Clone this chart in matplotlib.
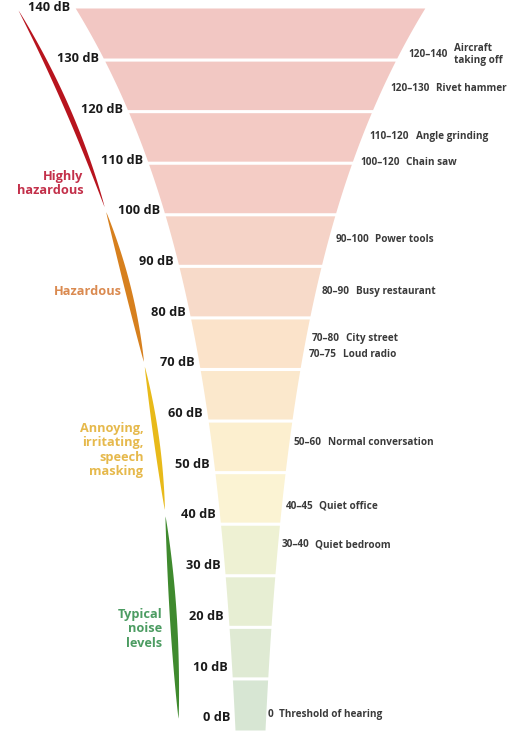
import numpy as np
import matplotlib
matplotlib.use("Agg")
import matplotlib.pyplot as plt

# Noise levels funnel (dB scale with typical sources)

# dB bands, bottom to top
levels = [0, 10, 20, 30, 40, 50, 60, 70, 80, 90, 100, 110, 120, 130, 140]
band_colors = ['#D7E6D3', '#DFEAD3', '#E7EED3', '#EEF1D3', '#FBF3D3',
               '#FCEFCF', '#FBE8CC', '#FBE3CA', '#F7DAC9', '#F5D3C7',
               '#F4CCC5', '#F3CAC4', '#F2C8C3', '#F2C7C3']

# examples on the right side
src_ranges = ['120–140', '120–130', '110–120', '100–120', '90–100', '80–90',
              '70–80', '70–75', '50–60', '40–45', '30–40', '0']
src_names = ['Aircraft\ntaking off', 'Rivet hammer', 'Angle grinding', 'Chain saw',
             'Power tools', 'Busy restaurant', 'City street', 'Loud radio',
             'Normal conversation', 'Quiet office', 'Quiet bedroom',
             'Threshold of hearing']
src_levels = [131, 124.3, 115, 110.1, 95.2, 85.1, 76, 72.9, 55.8, 43.4, 35.9, 3.1]

# hazard categories on the left stroke
cat_names = ['Highly\nhazardous', 'Hazardous', 'Annoying,\nirritating,\nspeech\nmasking',
             'Typical\nnoise\nlevels']
cat_ranges = [(101.5, 139.6), (71.5, 100.5), (42.8, 70.5), (2.3, 41.5)]
cat_label_y = [106, 85.1, 54.3, 19.6]
cat_label_gap = [13, 6, 14, 11]
cat_stroke_colors = ['#B8141E', '#D7801E', '#E8BA1A', '#3F8A2E']
cat_text_colors = ['#C3304A', '#DA8A50', '#E6B94C', '#4C9C62']

FONT = ['Open Sans', 'DejaVu Sans']
CX = 250  # funnel centre (px)


def half_width(db):
    return 15 + 13.6 * (np.exp(np.asarray(db) / 55.0) - 1)


fig = plt.figure(figsize=(5.21, 7.32), dpi=100)
ax = fig.add_axes([0, 0, 1, 1])
ax.set_xlim(0, 521)
ax.set_ylim(-0.39, 141.55)
ax.axis('off')

# funnel bands
gap = 0.3
for lo, hi, c in zip(levels[:-1], levels[1:], band_colors):
    y = np.linspace(lo + (gap if lo > 0 else 0), hi - (gap if hi < 140 else 0), 50)
    ax.fill_betweenx(y, CX - half_width(y), CX + half_width(y), color=c, lw=0)

# dB labels
for v in levels:
    ly = 140 - (140 - v) * 0.983
    ax.text(CX - half_width(v) - 5, ly, f'{v} dB', ha='right', va='center',
            fontsize=9.2, fontweight='bold', color='#1a1a1a', family=FONT)

# source labels
for r, n, lv in zip(src_ranges, src_names, src_levels):
    x0 = CX + half_width(lv) + 1.5 + 0.06 * lv
    t = ax.text(x0, lv, r, ha='left', va='center', fontsize=7.2,
                fontweight='bold', color='#3a3a3a', family=FONT)
    ax.annotate(n, xy=(1, 0.5), xycoords=t, xytext=(4.5, 0), textcoords='offset points',
                ha='left', va='center', fontsize=7.2, fontweight='bold',
                color='#3a3a3a', family=FONT, linespacing=1.1)

# left brush stroke
cy = np.array([139.6, 101.2, 71.2, 42.3, 2.3])
cxp = np.array([18, 105, 143, 165, 178])
coef = np.polyfit(cy, cxp, 3)
stroke_wmax = [5.5, 6.5, 5.5, 7.0]
for (lo, hi), col, wmax in zip(cat_ranges, cat_stroke_colors, stroke_wmax):
    y = np.linspace(lo, hi, 120)
    t = (y - lo) / (hi - lo)
    w = wmax * np.sin(np.pi * t) ** 0.8
    xc = np.polyval(coef, y)
    ax.fill_betweenx(y, xc - w / 2, xc + w / 2, color=col, lw=0)

for name, ly, g, col in zip(cat_names, cat_label_y, cat_label_gap, cat_text_colors):
    xr = np.polyval(coef, ly) - g
    ax.text(xr, ly, name, ha='right', va='center', fontsize=9.2, fontweight='bold',
            color=col, family=FONT, linespacing=1.15, multialignment='right')

fig.savefig('out.png', dpi=100)
